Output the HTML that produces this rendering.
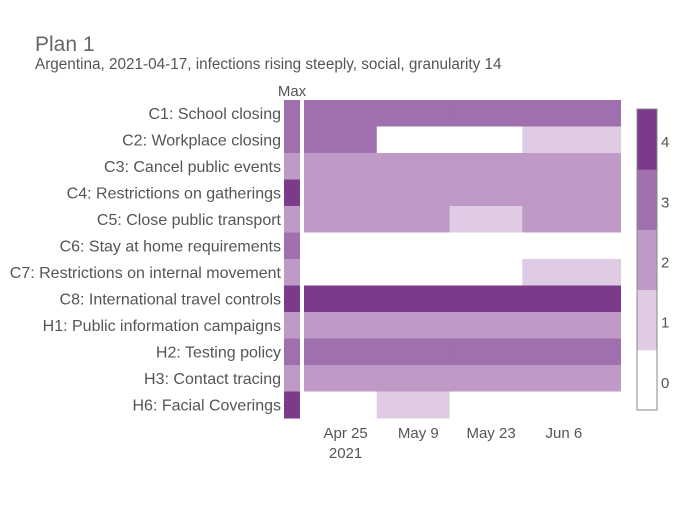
<!DOCTYPE html>
<html><head><meta charset="utf-8"><style>
body{margin:0;background:#fff}
svg{font-family:"Liberation Sans",sans-serif}
</style></head><body>
<svg id="c" width="700" height="500">
<text x="35" y="51" font-size="21" fill="#666">Plan 1</text>
<text x="35" y="69" font-size="15.3" fill="#555">Argentina, 2021-04-17, infections rising steeply, social, granularity 14</text>
<text x="292" y="96" font-size="15" fill="#555" text-anchor="middle">Max</text>
</svg>
<script>
const categories=["C1: School closing","C2: Workplace closing","C3: Cancel public events","C4: Restrictions on gatherings","C5: Close public transport","C6: Stay at home requirements","C7: Restrictions on internal movement","C8: International travel controls","H1: Public information campaigns","H2: Testing policy","H3: Contact tracing","H6: Facial Coverings"];
const maxValues=[3,3,2,4,2,3,2,4,2,3,2,4];
const blockStartDays=[0,14,28,42];
const endDay=61;
const planValues=[[3,3,3,3],[3,0,0,1],[2,2,2,2],[2,2,2,2],[2,2,1,2],[0,0,0,0],[0,0,0,1],[4,4,4,4],[2,2,2,2],[3,3,3,3],[2,2,2,2],[0,1,0,0]];
const tickDays=[8,22,36,50];
const tickLabels=["Apr 25","May 9","May 23","Jun 6"];
const colorTicks=[0,1,2,3,4];
const colors=["#ffffff","#dfcbe3","#bf9ac6","#a06fad","#7b3a8a"];
const svgEl=document.getElementById('c');const NS="http://www.w3.org/2000/svg";
const gx0=304,gx1=621,gTop=100,rowH=26.5;
const xs=d=>gx0+(gx1-gx0)*d/endDay;
const ys=i=>gTop+i*rowH;
function mk(t,a){const e=document.createElementNS(NS,t);for(const k in a)e.setAttribute(k,a[k]);svgEl.appendChild(e);return e;}
categories.forEach((c,i)=>{
 const t=mk('text',{x:281,y:ys(i)+rowH/2+5.5,'font-size':16,fill:'#555','text-anchor':'end'});t.textContent=c;
 
 
 const m=mk('rect',{x:284,y:ys(i),width:16,height:rowH+0.5,fill:colors[maxValues[i]]});
 
 
 planValues[i].forEach((v,j)=>{
  const s=blockStartDays[j],e=j+1<blockStartDays.length?blockStartDays[j+1]:endDay;
  const w=xs(e)-xs(s)+(j+1<blockStartDays.length?0.6:0);
  const r=mk('rect',{x:xs(s),y:ys(i),width:w,height:rowH+0.5,fill:colors[v]});
  
  
 });
});
tickDays.forEach((d,i)=>{
 const t=mk('text',{x:xs(d),y:438,'font-size':15,fill:'#555','text-anchor':'middle'});t.textContent=tickLabels[i];
 
 
});
const yr=mk('text',{x:xs(tickDays[0]),y:458,'font-size':15,fill:'#555','text-anchor':'middle'});yr.textContent="2021";


const cb0=109,cb1=410,cx=637,cw=20;
const cy=v=>cb1-(v+0.5)*(cb1-cb0)/5;
colorTicks.forEach(v=>{
 const r=mk('rect',{x:cx,y:cy(v+0.5),width:cw,height:cy(v-0.5)-cy(v+0.5)+0.5,fill:colors[v]});
 
 
 const t=mk('text',{x:661,y:cy(v)+8,'font-size':15,fill:'#555'});t.textContent=v;
 
 
});
const b=mk('rect',{x:cx,y:cb0,width:cw,height:cb1-cb0,fill:'none',stroke:'#888','stroke-width':1});


</script>
</body></html>
